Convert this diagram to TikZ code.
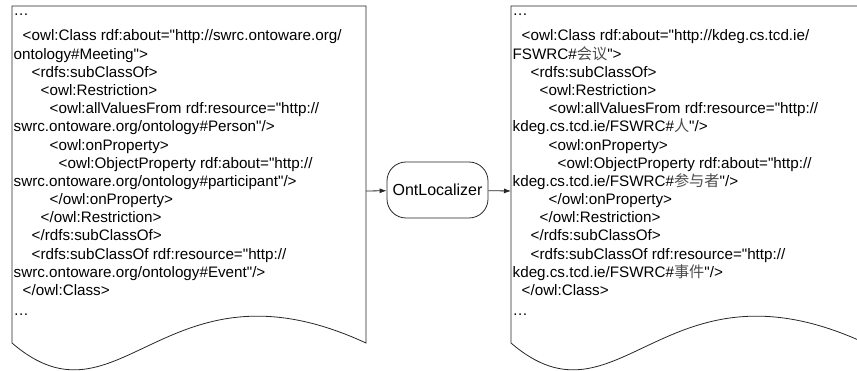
\documentclass[tikz,border=0pt]{standalone}
\usepackage{fontspec}
\setmainfont{Liberation Sans}[Ligatures=TeXOff]
\newfontfamily\cjk{Noto Sans CJK SC}
\usetikzlibrary{arrows.meta}
\newcommand{\zh}[1]{{\cjk\color{black!70}#1}}
\begin{document}
\begin{tikzpicture}[
    x=1pt, y=-1pt,
    every node/.style={align=left},
    codeline/.style={anchor=base west, inner sep=0pt, font=\fontsize{15.2}{18}\selectfont},
    docpage/.style={draw=black!85, line width=0.8pt},
    tool/.style={draw=black!85, line width=0.8pt, rounded corners=19pt,
                 minimum width=101pt, minimum height=56pt, font=\fontsize{16}{18}\selectfont},
    flow arrow/.style={draw=black!85, line width=0.8pt, -{Latex[length=7pt,width=5pt]}},
    ]
\useasboundingbox (0,0) rectangle (857,371);
\clip (0,0) rectangle (857,371);
% source document (English ontology)
\draw[docpage] (12,6) -- (366,6) -- (366,343)
    .. controls (165,250) and (120,436) .. (12,343) -- cycle;
\foreach \n/\lvl/\txt [evaluate=\n as \ypos using {\n==1 ? 16 : (\n==17 ? 316 : 41+18.18*(\n-2))}] in {
    1/0/{…},
    2/1/{<owl:Class rdf:about="http://swrc.ontoware.org/},
    3/0/{ontology\#Meeting">},
    4/2/{<rdfs:subClassOf>},
    5/3/{<owl:Restriction>},
    6/4/{<owl:allValuesFrom rdf:resource="http://},
    7/0/{swrc.ontoware.org/ontology\#Person"/>},
    8/4/{<owl:onProperty>},
    9/5/{<owl:ObjectProperty rdf:about="http://},
    10/0/{swrc.ontoware.org/ontology\#participant"/>},
    11/4/{</owl:onProperty>},
    12/3/{</owl:Restriction>},
    13/2/{</rdfs:subClassOf>},
    14/2/{<rdfs:subClassOf rdf:resource="http://},
    15/0/{swrc.ontoware.org/ontology\#Event"/>},
    16/1/{</owl:Class>},
    17/0/{…}}
  \node[codeline] (src-\n) at ({13.5+9*\lvl},\ypos) {\txt};
% localisation tool
\node[tool] (loc) at (437.5,190) {OntLocalizer};
% target document (Chinese ontology)
\draw[docpage] (511,6) -- (865,6) -- (865,343)
    .. controls (664,250) and (619,436) .. (511,343) -- cycle;
\foreach \n/\lvl/\txt [evaluate=\n as \ypos using {\n==1 ? 16 : (\n==17 ? 316 : 41+18.18*(\n-2))}] in {
    1/0/{…},
    2/1/{<owl:Class rdf:about="http://kdeg.cs.tcd.ie/},
    3/0/{FSWRC\#\zh{会议}">},
    4/2/{<rdfs:subClassOf>},
    5/3/{<owl:Restriction>},
    6/4/{<owl:allValuesFrom rdf:resource="http://},
    7/0/{kdeg.cs.tcd.ie/FSWRC\#\zh{人}"/>},
    8/4/{<owl:onProperty>},
    9/5/{<owl:ObjectProperty rdf:about="http://},
    10/0/{kdeg.cs.tcd.ie/FSWRC\#\zh{参与者}"/>},
    11/4/{</owl:onProperty>},
    12/3/{</owl:Restriction>},
    13/2/{</rdfs:subClassOf>},
    14/2/{<rdfs:subClassOf rdf:resource="http://},
    15/0/{kdeg.cs.tcd.ie/FSWRC\#\zh{事件}"/>},
    16/1/{</owl:Class>},
    17/0/{…}}
  \node[codeline] (tgt-\n) at ({512.5+9*\lvl},\ypos) {\txt};
\coordinate (srcport) at (366,191);
\coordinate (tgtport) at (511,191);
\draw[flow arrow] (srcport) -- (loc);
\draw[flow arrow] (loc) -- (tgtport);
\end{tikzpicture}
\end{document}
